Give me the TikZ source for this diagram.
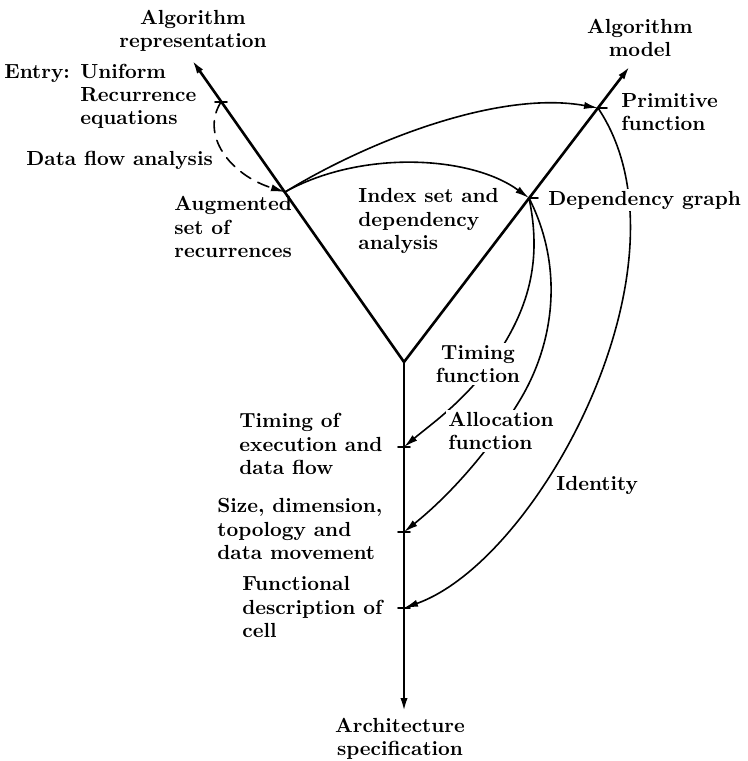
\documentclass[tikz,border=0pt]{standalone}
\usepackage{tikz}
\usetikzlibrary{arrows.meta}
\definecolor{pen}{RGB}{0,0,0}

\begin{document}
\begin{tikzpicture}[x=0.5pt, y=-0.5pt, line cap=round, line join=round,
    arm/.style={pen, line width=1.3pt},
    flow/.style={pen, line width=0.8pt},
    tip/.style={-{Latex[length=7pt, width=3.6pt]}},
    lbl/.style={pen, font=\fontsize{10.2pt}{11.6pt}\selectfont\bfseries, align=left, inner sep=1pt},
    cover/.style={lbl, fill=white}]

  %========= canvas =========
  \useasboundingbox (0,0) rectangle (748,761);

  %========= points on the three arms =========
  \coordinate (J)       at (404,362);   % junction of the Y
  \coordinate (repTip)  at (192,60);
  \coordinate (modTip)  at (630,66);
  \coordinate (archTip) at (404,712);
  \coordinate (E) at (221,102);         % entry
  \coordinate (A) at (285,192);         % augmented recurrences
  \coordinate (P) at (598,108);         % primitive function
  \coordinate (D) at (529,198);         % dependency graph
  \coordinate (T) at (404,447);         % timing
  \coordinate (S) at (404,532);         % size, topology
  \coordinate (F) at (404,608);         % functional description

  %========= the Y =========
  \draw[arm, tip] (J) -- (repTip);
  \draw[arm, tip] (J) -- (modTip);
  \draw[arm, tip] (J) -- (archTip);

  %========= ticks =========
  \foreach \p in {E,T,S,F}
    \draw[arm, line width=0.9pt] (\p) ++(-6,0) -- ++(12,0);
  \foreach \p in {P,D}
    \draw[arm, line width=0.9pt] (\p) -- ++(9,0);

  %========= mappings =========
  \draw[flow, tip, dashed, dash pattern=on 6pt off 4pt]
    (E) .. controls (200,135) and (230,175) .. (A);
  \draw[flow, tip] (A) .. controls (370,140) and (500,90) .. (P);
  \draw[flow, tip] (A) .. controls (360,150) and (470,155) .. (D);
  \draw[flow, tip] (D) .. controls (542,260) and (530,310) .. (490,365)
                       .. controls (462,403) and (430,425) .. (T);
  \draw[flow, tip] (D) .. controls (563,265) and (556,340) .. (520,400)
                       .. controls (490,450) and (450,495) .. (S);
  \draw[flow, tip] (P) .. controls (700,260) and (540,560) .. (F);

  %========= labels =========
  \node[lbl, align=center] (rep)  at (193,31) {Algorithm\\representation};
  \node[lbl, align=center] (mod)  at (640,38) {Algorithm\\model};
  \node[lbl, anchor=west]  (ent)  at (2,97)
    {\begin{tabular}{@{}l@{ }l}Entry: & Uniform\\ & Recurrence\\ & equations\end{tabular}};
  \node[lbl, anchor=west]  (dfa)  at (24,160) {Data flow analysis};
  \node[lbl, anchor=west]  (aug)  at (172,227) {Augmented\\set of\\recurrences};
  \node[lbl, anchor=west]  (idx)  at (356,221) {Index set and\\dependency\\analysis};
  \node[lbl, anchor=west]  (prim) at (619,112) {Primitive\\function};
  \node[cover, anchor=west] (dep) at (546,200) {Dependency graph};
  \node[cover, align=center] (timf) at (478,364) {Timing\\function};
  \node[cover, anchor=west] (allf) at (446,431) {Allocation\\function};
  \node[lbl, anchor=west]  (tex)  at (237,444) {Timing of\\execution and\\data flow};
  \node[lbl, anchor=west]  (siz)  at (215,529) {Size, dimension,\\topology and\\data movement};
  \node[lbl, anchor=west]  (fun)  at (240,607) {Functional\\description of\\cell};
  \node[lbl, anchor=west]  (idn)  at (554,485) {Identity};
  \node[lbl, align=center] (arch) at (400,739) {Architecture\\specification};
\end{tikzpicture}
\end{document}
